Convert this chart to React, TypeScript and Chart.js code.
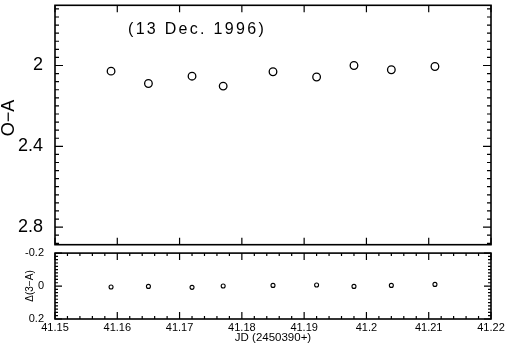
import React, { useEffect, useRef } from 'react';
import { Chart, registerables } from 'chart.js';

Chart.register(...registerables);

// ---- data ----
const JD = [41.159, 41.165, 41.172, 41.177, 41.185, 41.192, 41.198, 41.204, 41.211];
const O_MINUS_A = [2.028, 2.089, 2.053, 2.102, 2.031, 2.057, 2.0, 2.021, 2.005];
const DELTA_3A = [0.006, 0.002, 0.008, 0.0, -0.004, -0.006, 0.002, -0.004, -0.01];

const X_TICKS = [41.15, 41.16, 41.17, 41.18, 41.19, 41.2, 41.21, 41.22];
const TOP_Y_TICKS = [2, 2.4, 2.8];
const BOT_Y_TICKS = [-0.2, 0, 0.2];

const TITLE = '(13 Dec. 1996)';
const TOP_Y_TITLE = 'O\u2212A';
const BOT_Y_TITLE = '\u0394(3\u2212A)';
const X_TITLE = 'JD (2450390+)';

const FONT = '"Liberation Sans", Arial, Helvetica, sans-serif';
const fmt = (v: number) => String(Number(Number(v).toFixed(2)));

type TickSpec = {
  xStep: number; xFrom: number; xTo: number; xMajorEvery: number; xMinorLen: number; xMajorLen: number;
  yStep: number; yFrom: number; yTo: number; yMajorEvery: number; yMinorLen: number; yMajorLen: number;
  texts: (ctx: CanvasRenderingContext2D, chart: any) => void;
};

function framePlugin(spec: TickSpec) {
  return {
    id: 'frameTicks',
    afterDraw(chart: any) {
      const ctx: CanvasRenderingContext2D = chart.ctx;
      const { left, right, top, bottom } = chart.chartArea;
      const xs = chart.scales.x;
      const ys = chart.scales.y;
      ctx.save();
      ctx.strokeStyle = '#000';
      ctx.lineWidth = 1.6;
      ctx.strokeRect(left, top, right - left, bottom - top);
      ctx.lineWidth = 1.2;
      ctx.beginPath();
      for (let i = spec.xFrom; i <= spec.xTo; i++) {
        const px = xs.getPixelForValue(i * spec.xStep);
        const len = i % spec.xMajorEvery === 0 ? spec.xMajorLen : spec.xMinorLen;
        ctx.moveTo(px, top);
        ctx.lineTo(px, top + len);
        ctx.moveTo(px, bottom);
        ctx.lineTo(px, bottom - len);
      }
      for (let i = spec.yFrom; i <= spec.yTo; i++) {
        const py = ys.getPixelForValue(i * spec.yStep);
        const len = i % spec.yMajorEvery === 0 ? spec.yMajorLen : spec.yMinorLen;
        ctx.moveTo(left, py);
        ctx.lineTo(left + len, py);
        ctx.moveTo(right, py);
        ctx.lineTo(right - len, py);
      }
      ctx.stroke();
      ctx.fillStyle = '#000';
      spec.texts(ctx, chart);
      ctx.restore();
    },
  };
}

function drawRotated(ctx: CanvasRenderingContext2D, text: string, x: number, y: number, size: number) {
  ctx.save();
  ctx.translate(x, y);
  ctx.rotate(-Math.PI / 2);
  ctx.font = `${size}px ${FONT}`;
  ctx.textAlign = 'center';
  ctx.textBaseline = 'middle';
  ctx.fillText(text, 0, 0);
  ctx.restore();
}

export default function App() {
  const topRef = useRef<HTMLCanvasElement>(null);
  const botRef = useRef<HTMLCanvasElement>(null);

  useEffect(() => {
    const topChart = new Chart(topRef.current as HTMLCanvasElement, {
      type: 'scatter',
      data: {
        datasets: [
          {
            data: JD.map((x, i) => ({ x, y: O_MINUS_A[i] })),
            pointStyle: 'circle',
            pointRadius: 3.8,
            borderColor: '#000',
            borderWidth: 1.3,
            backgroundColor: 'rgba(0,0,0,0)',
          },
        ],
      },
      options: {
        animation: false,
        responsive: false,
        layout: { padding: { left: 0, top: 3, right: 14, bottom: 3 } },
        plugins: { legend: { display: false }, tooltip: { enabled: false } },
        scales: {
          x: { type: 'linear', display: false, min: 41.15, max: 41.22 },
          y: {
            type: 'linear',
            reverse: true,
            min: 1.702,
            max: 2.887,
            grid: { display: false, drawTicks: false },
            border: { display: false },
            ticks: { padding: 12, color: '#000', font: { family: FONT, size: 18 }, callback: (v: any) => fmt(v) },
            afterBuildTicks: (s: any) => {
              s.ticks = TOP_Y_TICKS.map((value) => ({ value }));
            },
            afterFit: (s: any) => {
              s.width = 55;
              s.paddingTop = 0;
              s.paddingBottom = 0;
            },
          },
        },
      },
      plugins: [
        framePlugin({
          xStep: 0.01, xFrom: 4115, xTo: 4122, xMajorEvery: 1, xMinorLen: 7, xMajorLen: 7,
          yStep: 0.04, yFrom: 43, yTo: 72, yMajorEvery: 10, yMinorLen: 4, yMajorLen: 8,
          texts: (ctx) => {
            ctx.font = `16px ${FONT}`;
            (ctx as any).letterSpacing = '2.3px';
            ctx.textAlign = 'left';
            ctx.textBaseline = 'alphabetic';
            ctx.fillText(TITLE, 128, 34);
            (ctx as any).letterSpacing = '0px';
            drawRotated(ctx, TOP_Y_TITLE, 9, 118, 18);
          },
        }) as any,
      ],
    } as any);

    const botChart = new Chart(botRef.current as HTMLCanvasElement, {
      type: 'scatter',
      data: {
        datasets: [
          {
            data: JD.map((x, i) => ({ x, y: DELTA_3A[i] })),
            pointStyle: 'circle',
            pointRadius: 2,
            borderColor: '#000',
            borderWidth: 1.1,
            backgroundColor: 'rgba(0,0,0,0)',
          },
        ],
      },
      options: {
        animation: false,
        responsive: false,
        layout: { padding: { left: 0, top: 3, right: 14, bottom: 0 } },
        plugins: { legend: { display: false }, tooltip: { enabled: false } },
        scales: {
          x: {
            type: 'linear',
            min: 41.15,
            max: 41.22,
            grid: { display: false, drawTicks: false },
            border: { display: false },
            ticks: {
              padding: 2,
              color: '#000',
              maxRotation: 0,
              autoSkip: false,
              font: { family: FONT, size: 11 },
              callback: (v: any) => fmt(v),
            },
            afterBuildTicks: (s: any) => {
              s.ticks = X_TICKS.map((value) => ({ value }));
            },
            afterFit: (s: any) => {
              s.height = 35;
              s.paddingLeft = 0;
              s.paddingRight = 0;
            },
          },
          y: {
            type: 'linear',
            reverse: true,
            min: -0.2,
            max: 0.2,
            grid: { display: false, drawTicks: false },
            border: { display: false },
            ticks: { padding: 11, color: '#000', font: { family: FONT, size: 11 }, callback: (v: any) => fmt(v) },
            afterBuildTicks: (s: any) => {
              s.ticks = BOT_Y_TICKS.map((value) => ({ value }));
            },
            afterFit: (s: any) => {
              s.width = 55;
              s.paddingTop = 0;
              s.paddingBottom = 0;
            },
          },
        },
      },
      plugins: [
        framePlugin({
          xStep: 0.002, xFrom: 20575, xTo: 20610, xMajorEvery: 5, xMinorLen: 3, xMajorLen: 7,
          yStep: 0.02, yFrom: -10, yTo: 10, yMajorEvery: 10, yMinorLen: 3, yMajorLen: 7,
          texts: (ctx) => {
            drawRotated(ctx, BOT_Y_TITLE, 30, 38, 10);
            ctx.font = `11.5px ${FONT}`;
            ctx.textAlign = 'center';
            ctx.textBaseline = 'middle';
            ctx.fillText(X_TITLE, 273, 90);
          },
        }) as any,
      ],
    } as any);

    return () => {
      topChart.destroy();
      botChart.destroy();
    };
  }, []);

  return (
    <div style={{ position: 'absolute', left: 0, top: 0, width: 505, height: 354, background: '#fff' }}>
      <canvas
        ref={topRef}
        width={505}
        height={250}
        style={{ position: 'absolute', left: 0, top: 0, width: 505, height: 250, display: 'block' }}
      />
      <canvas
        ref={botRef}
        width={505}
        height={106}
        style={{ position: 'absolute', left: 0, top: 248, width: 505, height: 106, display: 'block' }}
      />
    </div>
  );
}
